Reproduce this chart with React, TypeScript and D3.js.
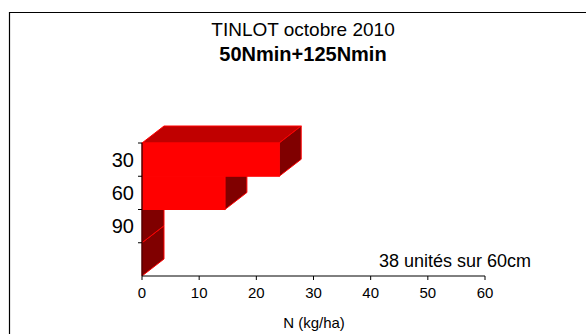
import React from "react";
import * as d3 from "d3";

const depthLabels = ["30", "60", "90", ""];
const nValues = [24, 14.5, 0, 0];
const xTicks = [0, 10, 20, 30, 40, 50, 60];
const titleLine1 = "TINLOT octobre 2010";
const titleLine2 = "50Nmin+125Nmin";
const note = "38 unités sur 60cm";
const xAxisTitle = "N (kg/ha)";

const W = 586;
const H = 334;
const FONT = "Arial, 'Liberation Sans', sans-serif";

export default function App() {
  const keys = depthLabels.map((d, i) => d + "#" + i);
  const x = d3.scaleLinear().domain([0, 60]).range([142, 485]);
  const y = d3.scaleBand<string>().domain(keys).range([143, 276]).padding(0);
  const dx = 22;
  const dy = -17;
  const bw = y.bandwidth();
  const x0 = x(0);

  const bars = keys.map((k, i) => {
    const yt = y(k)!;
    const yb = yt + bw;
    const xr = x(nValues[i]);
    return { i, yt, yb, xr };
  });

  const pts = (arr: number[][]) => arr.map((p) => p.join(",")).join(" ");

  return (
    <svg width={W} height={H} style={{ position: "absolute", left: 0, top: 0, background: "#fff" }} fontFamily={FONT}>
      <rect x={0} y={0} width={W} height={H} fill="#fff" />
      <path d={`M9.5,${H + 5} V12.5 H${W + 5}`} fill="none" stroke="#000" strokeWidth={1.2} />
      <text x={303} y={36} textAnchor="middle" fontSize={19} fill="#000">{titleLine1}</text>
      <text x={303} y={61} textAnchor="middle" fontSize={20} fontWeight="bold" fill="#000">{titleLine2}</text>

      {/* bars drawn bottom to top */}
      {[...bars].reverse().map((b) => (
        <g key={b.i}>
          {b.i === 0 && (
            <polygon
              points={pts([[x0, b.yt], [x0 + dx, b.yt + dy], [b.xr + dx, b.yt + dy], [b.xr, b.yt]])}
              fill="#c00000"
              stroke="#ff0000"
              strokeWidth={1}
            />
          )}
          <polygon
            points={pts([[b.xr, b.yt], [b.xr + dx, b.yt + dy], [b.xr + dx, b.yb + dy], [b.xr, b.yb]])}
            fill="#800000"
            stroke="#ff0000"
            strokeWidth={1}
          />
          {b.xr > x0 && (
            <rect x={x0} y={b.yt} width={b.xr - x0} height={bw} fill="#ff0000" stroke="#ff0000" strokeWidth={1} />
          )}
        </g>
      ))}

      {/* y axis */}
      <line x1={x0} y1={143} x2={x0} y2={276} stroke="#000" strokeWidth={1} />
      {keys.map((k, i) => (
        <line key={"yt" + i} x1={x0 - 4} x2={x0} y1={y(k)!} y2={y(k)!} stroke="#000" />
      ))}
      {keys.map((k, i) => (
        <text key={"yl" + i} x={134} y={y(k)! + bw / 2 + 7} textAnchor="end" fontSize={20} fill="#000">
          {depthLabels[i]}
        </text>
      ))}

      {/* x axis */}
      <line x1={x0} y1={276} x2={x(60)} y2={276} stroke="#000" strokeWidth={1} />
      {xTicks.map((t) => (
        <g key={"xt" + t}>
          <line x1={x(t)} x2={x(t)} y1={276} y2={280} stroke="#000" />
          <text x={x(t)} y={298} textAnchor="middle" fontSize={15} fill="#000">{t}</text>
        </g>
      ))}
      <text x={314} y={328} textAnchor="middle" fontSize={15} fill="#000">{xAxisTitle}</text>
      <text x={531} y={267} textAnchor="end" fontSize={18} fill="#000">{note}</text>
    </svg>
  );
}
